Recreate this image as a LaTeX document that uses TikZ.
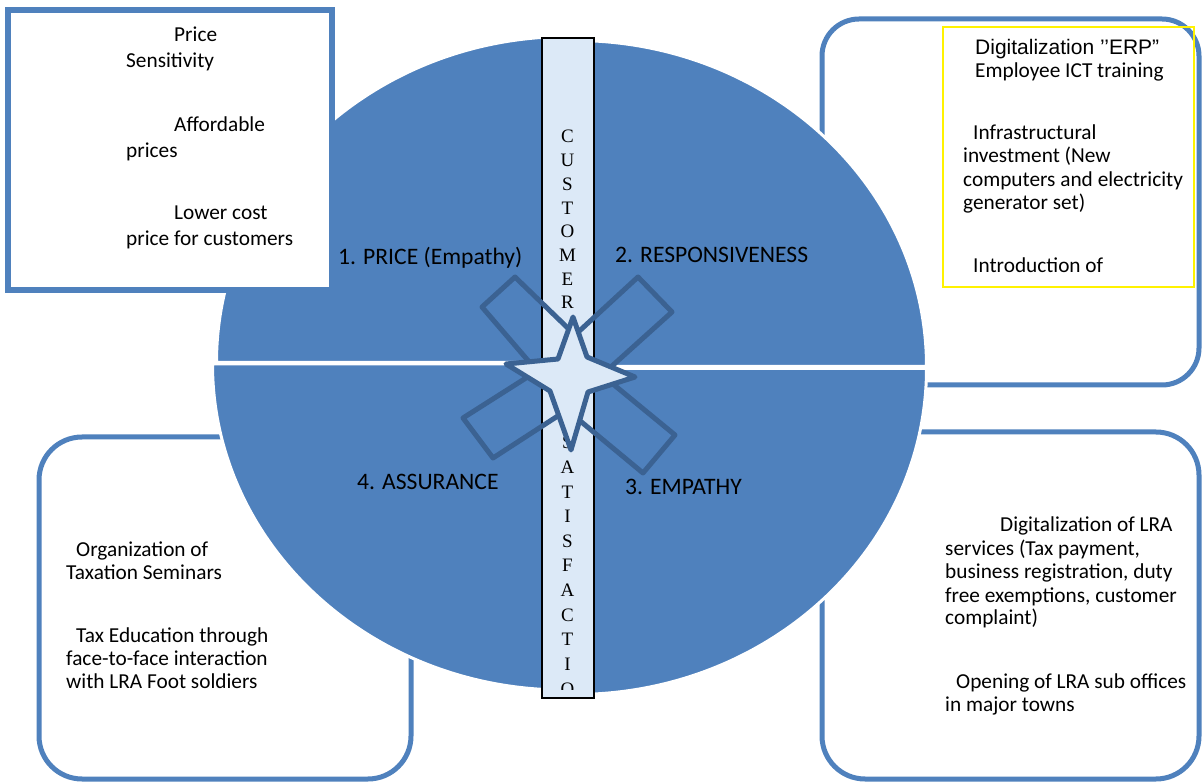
\documentclass[tikz,border=0pt]{standalone}
\usepackage{fontspec}
\setmainfont{Carlito}
\newfontfamily\arialfont{Liberation Sans}
\newfontfamily\timesfont{Liberation Serif}
\definecolor{pieblue}{RGB}{79,129,189}
\definecolor{starblue}{RGB}{59,98,146}
\definecolor{barfill}{RGB}{220,233,247}
\tikzset{
  boxline/.style={draw=pieblue, line width=5pt, fill=white},
  quarter/.style={fill=pieblue, draw=white, line width=3pt},
  starline/.style={draw=starblue, line width=5pt, line join=round},
  txt/.style={anchor=base west, inner sep=0pt, font=\fontsize{21.3}{25}\selectfont},
  letter/.style={anchor=base, inner sep=0pt, font=\timesfont\fontsize{19}{23}\selectfont},
  quadlabel/.style={anchor=base west, inner sep=0pt, font=\fontsize{23.6}{27}\selectfont}
}

\begin{document}
\begin{tikzpicture}[x=1pt,y=-1pt]
\useasboundingbox (0,0) rectangle (1203,783);

% boxes behind the circle
\filldraw[boxline, rounded corners=37pt] (822,19) rectangle (1199,385);
\filldraw[boxline, rounded corners=43pt] (39,437) rectangle (411,779);
\filldraw[boxline, rounded corners=43pt] (822,432) rectangle (1199,779);
\draw[draw=yellow, line width=2pt] (943,27) rectangle (1194,287);

% the four quarters
\filldraw[quarter] (568.5,362.5) -- ++(-352,0) arc[start angle=180, end angle=270, x radius=352, y radius=326] -- cycle;
\filldraw[quarter] (574.5,366.5) -- ++(0,-326) arc[start angle=270, end angle=360, x radius=352, y radius=326] -- cycle;
\filldraw[quarter] (574.5,368.5) -- ++(352,0) arc[start angle=0, end angle=90, x radius=352, y radius=326] -- cycle;
\filldraw[quarter] (564.5,364) -- ++(0,326) arc[start angle=90, end angle=180, x radius=352, y radius=326] -- cycle;

\filldraw[draw=pieblue, line width=6pt, fill=white] (8,10) rectangle (332,290);

% vertical bar
\filldraw[fill=barfill, draw=black, line width=2pt] (541.5,38) rectangle (593.5,698);
\foreach \l [count=\i from 0] in {C,U,S,T,O,M,E,R}
  \node[letter] (c\i) at (567.5,{143+23.7*\i}) {\l};
\begin{scope}
  \clip (541.5,38) rectangle (593.5,689);
  \foreach \l [count=\i from 0] in {S,A,T,I,S,F,A,C,T,I,O}
    \node[letter] (s\i) at (567.5,{449+24.6*\i}) {\l};
\end{scope}

% cross and star
\draw[starline] (482,307) -- (515,277) -- (575,335) -- (638,277) -- (672,312) -- (602,375)
  -- (675,435) -- (643,473) -- (567,410) -- (493,458) -- (463,418) -- (537,371) -- cycle;
\filldraw[starline, fill=barfill] (573,317) -- (558,359) -- (506,364) -- (550,391)
  -- (571,450) -- (588,392) -- (635,377) -- (587,357) -- cycle;

\node[quadlabel] (price) at (338,265) {1. PRICE (Empathy)};
\node[quadlabel] (resp) at (615,263) {2. RESPONSIVENESS};
\node[quadlabel] (assur) at (357,490) {4. ASSURANCE};
\node[quadlabel] (emp) at (625,495) {3. EMPATHY};

% box texts
\foreach \x/\y/\t [count=\i] in {174/42/Price, 126/68/Sensitivity, 174/132/Affordable,
    126/158/prices, 174/220/Lower cost, 126/246/price for customers}
  \node[txt] (tl\i) at (\x,\y) {\t};

\node[txt, font=\arialfont\fontsize{21}{24}\selectfont] (erp) at (975,55) {Digitalization ’’ERP”};
\foreach \x/\y/\t [count=\i] in {975/78/Employee ICT training, 973/140/Infrastructural,
    963/163/investment (New, 963/187/computers and electricity, 963/210/generator set),
    973/273/Introduction of}
  \node[txt] (tr\i) at (\x,\y) {\t};

\foreach \x/\y/\t [count=\i] in {76/557/Organization of, 66/579/Taxation Seminars,
    76/642/Tax Education through, 66/665/face-to-face interaction, 66/688/with LRA Foot soldiers}
  \node[txt] (bl\i) at (\x,\y) {\t};

\foreach \x/\y/\t [count=\i] in {1000/532/Digitalization of LRA, 945/555/{services (Tax payment,},
    945/578/{business registration, duty}, 945/602/{free exemptions, customer},
    945/624/complaint), 956/688/Opening of LRA sub offices, 945/711/in major towns}
  \node[txt] (br\i) at (\x,\y) {\t};
\end{tikzpicture}
\end{document}
